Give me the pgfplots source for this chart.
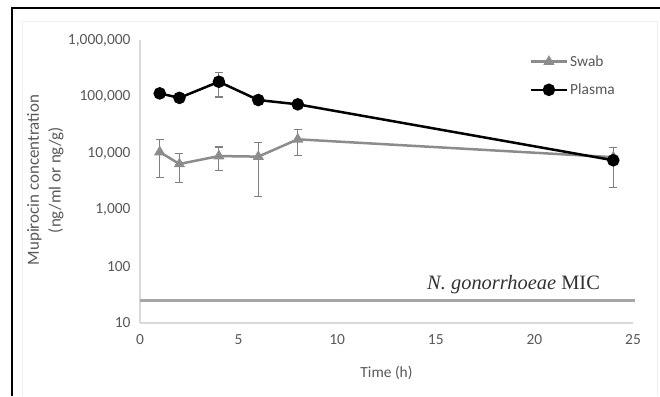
\documentclass[border=0pt]{standalone}
\usepackage{pgfplots}
\pgfplotsset{compat=1.18}
\usepackage{fontspec}
\setmainfont{Carlito}
\newfontfamily\serifmic{Liberation Serif}
\definecolor{txtgray}{HTML}{595959}
\definecolor{axgray}{HTML}{D9D9D9}
\definecolor{swabgray}{HTML}{8C8C8C}
\definecolor{micgray}{HTML}{A6A6A6}
\definecolor{errgray}{HTML}{7F7F7F}
\begin{document}
\begin{tikzpicture}[x=1bp,y=1bp]
\useasboundingbox (0,0) rectangle (660,396);
\fill[white] (0,0) rectangle (660,396);
\draw[gray!12, line width=1bp] (22,0) -- (22,374) -- (657,374) -- (657,0);
\draw[black, line width=1.5bp] (12,0) -- (12,388) -- (660,388);
\begin{axis}[
  at={(140bp,73bp)}, anchor=south west, scale only axis,
  width=493bp, height=283bp,
  xmin=0, xmax=25, ymin=10, ymax=1000000, ymode=log,
  axis x line=bottom, axis y line=left,
  axis line style={-, draw=axgray, line width=1.5bp},
  xtick={0,5,10,15,20,25},
  ytick={10,100,1000,10000,100000,1000000},
  yticklabels={10,100,{1,000},{10,000},{100,000},{1,000,000}},
  major tick length=0pt, minor tick length=0pt,
  tick label style={font=\fontsize{15.5}{17}\selectfont, text=txtgray},
  /pgf/number format/assume math mode=true,
  xticklabel style={yshift=-8bp},
  yticklabel style={xshift=-6bp},
  xlabel={Time (h)},
  xlabel style={font=\fontsize{15.5}{17}\selectfont, text=txtgray, at={(axis description cs:0.5,-0.176)}, anchor=center},
  ylabel={Mupirocin concentration\\(ng/ml or ng/g)},
  ylabel style={font=\fontsize{17}{22}\selectfont, text=txtgray, align=center, at={(axis description cs:-0.192,0.505)}, anchor=center},
  legend style={at={(axis description cs:0.79,0.953)}, anchor=north west, draw=none, fill=none,
     font=\fontsize{15.5}{17}\selectfont, text=txtgray, row sep=12bp, inner sep=0pt},
  legend cell align=left,
  legend image code/.code={\draw[mark repeat=2,mark phase=2] plot coordinates {(0bp,0bp)(18bp,0bp)(36bp,0bp)};},
  clip=false,
]
\addplot[micgray, line width=3bp, forget plot] coordinates {(0,25) (25.1,25)};
\addplot[swabgray, line width=2.5bp, mark=triangle*, mark size=4bp,
  error bars/.cd, y dir=both, y explicit,
  error bar style={errgray, line width=1.2bp},
  error mark options={rotate=90, mark size=4bp, errgray, line width=1.2bp}]
  coordinates {
  (1,10500) +- (0,6800)
  (2,6450) +- (0,3400)
  (4,8900) +- (0,4000)
  (6,8700) +- (0,7000)
  (8,17600) +- (0,8500)
  (24,8500) +- (0,0)
  };
\addlegendentry{Swab}
\addplot[black, line width=2.5bp, mark=*, mark size=5bp,
  error bars/.cd, y dir=both, y explicit,
  error bar style={errgray, line width=1.2bp},
  error mark options={rotate=90, mark size=4bp, errgray, line width=1.2bp}]
  coordinates {
  (1,114000) +- (0,0)
  (2,95000) +- (0,12000)
  (4,183000) +- (0,85000)
  (6,87000) +- (0,0)
  (8,73000) +- (0,0)
  (24,7500) +- (0,5000)
  };
\addlegendentry{Plasma}
\node[anchor=base east, font=\serifmic\fontsize{20.5}{22}\selectfont, text=black!80] at (axis cs:23.5,39) {\textit{N. gonorrhoeae} MIC};
\end{axis}
\end{tikzpicture}
\end{document}
